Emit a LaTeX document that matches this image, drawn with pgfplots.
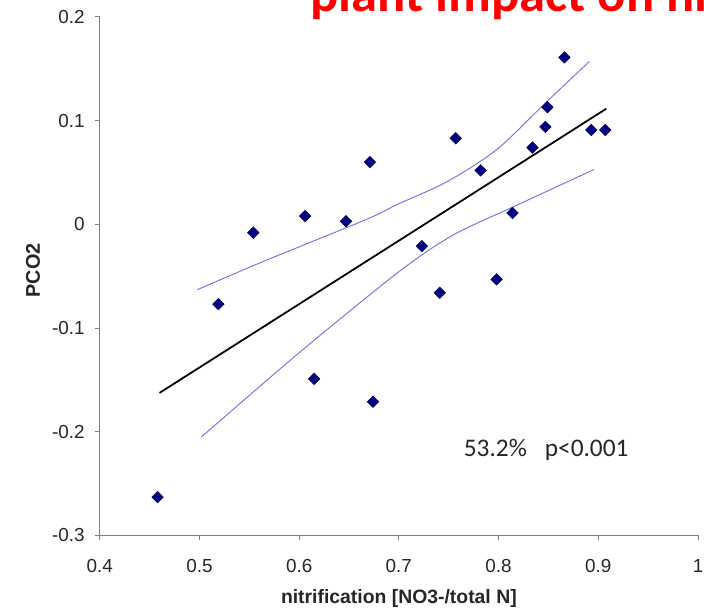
\documentclass[border=0pt]{standalone}
\usepackage{fontspec}
\setmainfont{Liberation Sans}
\newfontfamily\calibri{Carlito}
\usepackage{pgfplots}
\pgfplotsset{compat=1.18}
\definecolor{navy}{RGB}{0,0,128}
\definecolor{cilav}{RGB}{120,120,225}
\definecolor{axgray}{RGB}{128,128,128}
\begin{document}
\begin{tikzpicture}
\begin{axis}[
  at={(0,0)}, anchor=south west,
  width=600bp, height=520bp, scale only axis,
  xmin=0.4, xmax=1, ymin=-0.3, ymax=0.2,
  axis x line*=bottom, axis y line*=left,
  axis line style={axgray, line width=1.3bp, -},
  xtick={0.4,0.5,0.6,0.7,0.8,0.9,1},
  xticklabels={0.4,0.5,0.6,0.7,0.8,0.9,1},
  ytick={-0.3,-0.2,-0.1,0,0.1,0.2},
  yticklabels={-0.3,-0.2,-0.1,0,0.1,0.2},
  tick align=outside, major tick length=5bp,
  tick style={axgray, line width=1bp},
  xticklabel style={font=\fontsize{19}{22}\selectfont, text=black!85, inner sep=0pt, anchor=north, yshift=-19bp},
  yticklabel style={font=\fontsize{19}{22}\selectfont, text=black!85, inner sep=0pt, anchor=east, xshift=-10bp},
  xlabel={nitrification [NO3-/total N]},
  ylabel={PCO2},
  xlabel style={font=\bfseries\fontsize{19.5}{22}\selectfont, text=black!85, inner sep=0pt, at={(axis description cs:0.5,0)}, anchor=base, yshift=-68bp},
  ylabel style={font=\bfseries\fontsize{20}{22}\selectfont, text=black!85, inner sep=0pt, at={(axis description cs:-0.1,0.5115)}, anchor=base},
  clip=false,
]
\addplot[cilav, line width=1bp, smooth] coordinates {
  (0.498,-0.063) (0.561,-0.037) (0.668,0.005) (0.698,0.019) (0.748,0.041)
  (0.798,0.072) (0.848,0.118) (0.891,0.157)};
\addplot[cilav, line width=1bp, smooth] coordinates {
  (0.502,-0.205) (0.601,-0.123) (0.701,-0.045) (0.755,-0.010) (0.815,0.017) (0.896,0.053)};
\addplot[black, line width=1.8bp] coordinates {(0.460,-0.1625) (0.908,0.1115)};
\addplot[only marks, mark=square*, mark size=4.1bp,
  mark options={rotate=45, fill=navy, draw=navy!70!black, line width=0.5bp}] table {
x y
0.458 -0.263
0.519 -0.077
0.554 -0.008
0.606 0.008
0.647 0.003
0.671 0.060
0.615 -0.149
0.674 -0.171
0.723 -0.021
0.741 -0.066
0.757 0.083
0.782 0.052
0.798 -0.053
0.814 0.011
0.834 0.074
0.847 0.094
0.849 0.113
0.866 0.161
0.893 0.091
0.907 0.091
};
\node[anchor=base west, inner sep=0pt, font=\calibri\fontsize{25.5}{30}\selectfont, text=black!85]
  at (axis cs:0.765,-0.224) {53.2\%\hspace{18bp}p<0.001};
\end{axis}
\node[anchor=base west, inner sep=0pt, font=\calibri\bfseries\fontsize{53}{60}\selectfont, text=red]
  at (211bp,525bp) {plant impact on nitrification};
\pgfresetboundingbox
\useasboundingbox (-100bp,-79bp) rectangle (606bp,537bp);
\end{tikzpicture}
\end{document}
